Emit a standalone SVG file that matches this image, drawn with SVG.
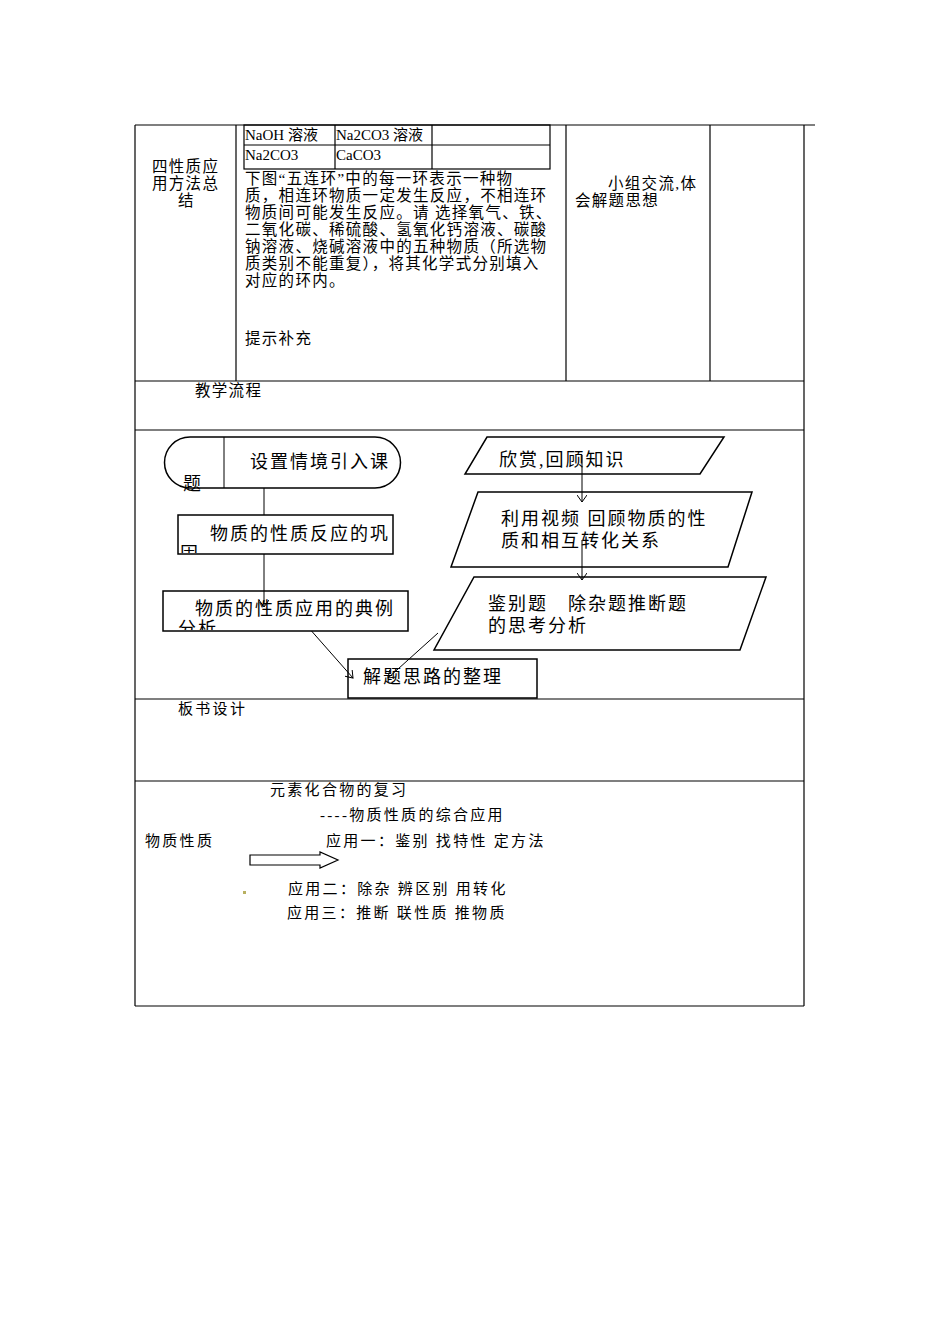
<svg xmlns="http://www.w3.org/2000/svg" width="950" height="1344" viewBox="0 0 950 1344">
<style>
.l{stroke:#000;stroke-width:1.2;fill:none}
.s{stroke:#000;stroke-width:1.5;fill:#fff}
text{font-family:"Liberation Serif","Noto Sans CJK SC",serif;fill:#000}
.t{font-size:15.5px;letter-spacing:1.3px}
.b{font-size:15px;letter-spacing:2.3px}
.f{font-size:18px;letter-spacing:2px}
.c{stroke:#000;stroke-width:1;fill:none}
</style>
<defs><marker id="a" markerWidth="8" markerHeight="10" refX="7" refY="5" orient="auto" markerUnits="userSpaceOnUse"><path d="M0,0 L7,5 L0,10" fill="none" stroke="#000" stroke-width="1"/></marker>
<clipPath id="c1"><rect x="170" y="540" width="50" height="13"/></clipPath><clipPath id="c2"><rect x="170" y="615" width="60" height="15"/></clipPath></defs>
<rect width="950" height="1344" fill="#fff"/>
<g id="table">
<line class="l" x1="135" y1="125" x2="815" y2="125"/>
<line class="l" x1="135" y1="125" x2="135" y2="1006"/>
<line class="l" x1="804" y1="125" x2="804" y2="1006"/>
<line class="l" x1="135" y1="1006" x2="804" y2="1006"/>
<line class="l" x1="236" y1="125" x2="236" y2="381"/>
<line class="l" x1="566" y1="125" x2="566" y2="381"/>
<line class="l" x1="710" y1="125" x2="710" y2="381"/>
<line class="l" x1="135" y1="381" x2="804" y2="381"/>
<line class="l" x1="135" y1="430" x2="804" y2="430"/>
<line class="l" x1="135" y1="699" x2="804" y2="699"/>
<line class="l" x1="135" y1="781" x2="804" y2="781"/>
</g>
<g id="inner-table">
<rect class="l" x="244" y="125" width="306" height="44"/>
<line class="l" x1="244" y1="145" x2="550" y2="145"/>
<line class="l" x1="335" y1="125" x2="335" y2="169"/>
<line class="l" x1="432" y1="125" x2="432" y2="169"/>
<text style="font-size:15px" x="245" y="140">NaOH 溶液</text>
<text style="font-size:15px" x="336" y="140">Na2CO3 溶液</text>
<text style="font-size:15px" x="245" y="160">Na2CO3</text>
<text style="font-size:15px" x="336" y="160">CaCO3</text>
</g>
<g id="row1-text">
<text class="t" x="152" y="172">四性质应</text>
<text class="t" x="152" y="189">用方法总</text>
<text class="t" x="178" y="206">结</text>
<text class="t" x="245" y="184">下图“五连环”中的每一环表示一种物</text>
<text class="t" x="245" y="201">质，相连环物质一定发生反应，不相连环</text>
<text class="t" x="245" y="218">物质间可能发生反应。请 选择氧气、铁、</text>
<text class="t" x="245" y="235">二氧化碳、稀硫酸、氢氧化钙溶液、碳酸</text>
<text class="t" x="245" y="252">钠溶液、烧碱溶液中的五种物质（所选物</text>
<text class="t" x="245" y="269">质类别不能重复），将其化学式分别填入</text>
<text class="t" x="245" y="286">对应的环内。</text>
<text class="t" x="245" y="344">提示补充</text>
<text class="t" x="608" y="189">小组交流,体</text>
<text class="t" x="575" y="206">会解题思想</text>
<text class="t" x="195" y="396">教学流程</text>
</g>
<g id="connectors">
<line class="c" x1="264" y1="456" x2="264" y2="515"/>
<line class="c" x1="264" y1="554" x2="264" y2="607" marker-end="url(#a)"/>
<line class="c" x1="582" y1="455" x2="582" y2="502" marker-end="url(#a)"/>
<line class="c" x1="582" y1="540" x2="582" y2="580" marker-end="url(#a)"/>
<line class="c" x1="308" y1="627" x2="353" y2="678" marker-end="url(#a)"/>
<line class="c" x1="438" y1="633" x2="388" y2="678" marker-end="url(#a)"/>
</g>
<g id="n-start">
<path class="s" d="M190,437 H375 A25.5,25.5 0 0 1 375,488 H190 A25.5,25.5 0 0 1 190,437 Z"/>
<line class="c" x1="224" y1="437" x2="224" y2="488"/>
<text class="f" x="250" y="468">设置情境引入课</text>
<text class="f" x="183" y="490">题</text>
</g>
<g id="n-r1"><rect class="s" x="178" y="515" width="215" height="39"/>
<text class="f" x="210" y="540">物质的性质反应的巩</text>
<text class="f" x="180" y="560" clip-path="url(#c1)">固</text></g>
<g id="n-r2"><rect class="s" x="163" y="591" width="245" height="40"/>
<text class="f" x="195" y="615">物质的性质应用的典例</text>
<text class="f" x="178" y="635" clip-path="url(#c2)">分析</text></g>
<line class="c" x1="264" y1="591" x2="264" y2="607" marker-end="url(#a)"/>
<g id="n-r3"><rect class="s" x="348" y="659" width="189" height="39" fill-opacity="0"/>
<text class="f" x="363" y="683">解题思路的整理</text></g>
<g id="n-p1"><polygon class="s" points="487,437 724,437 700,474 465,474" fill-opacity="0"/>
<text class="f" x="499" y="466">欣赏,回顾知识</text></g>
<g id="n-p2"><polygon class="s" points="478,492 752,492 728,567 451,567" fill-opacity="0"/>
<text class="f" x="501" y="525">利用视频 回顾物质的性</text>
<text class="f" x="501" y="547">质和相互转化关系</text></g>
<g id="n-p3"><polygon class="s" points="474,577 766,577 740,650 434,650" fill-opacity="0"/>
<text class="f" x="488" y="610">鉴别题　除杂题推断题</text>
<text class="f" x="488" y="632">的思考分析</text></g>
<g id="board">
<text class="b" x="178" y="714">板书设计</text>
<text class="b" x="270" y="795">元素化合物的复习</text>
<text class="b" x="320" y="820">----物质性质的综合应用</text>
<text class="b" x="145" y="846">物质性质</text>
<text class="b" x="326" y="846">应用一：鉴别 找特性 定方法</text>
<path d="M250,855 H320 V852 L338,860 L320,868 V865 H250 Z" fill="#fff" stroke="#000" stroke-width="1.2"/>
<rect x="243" y="891" width="3" height="3" fill="#b8b060"/>
<text class="b" x="288" y="894">应用二：除杂 辨区别 用转化</text>
<text class="b" x="287" y="918">应用三：推断 联性质 推物质</text>
</g>
</svg>
